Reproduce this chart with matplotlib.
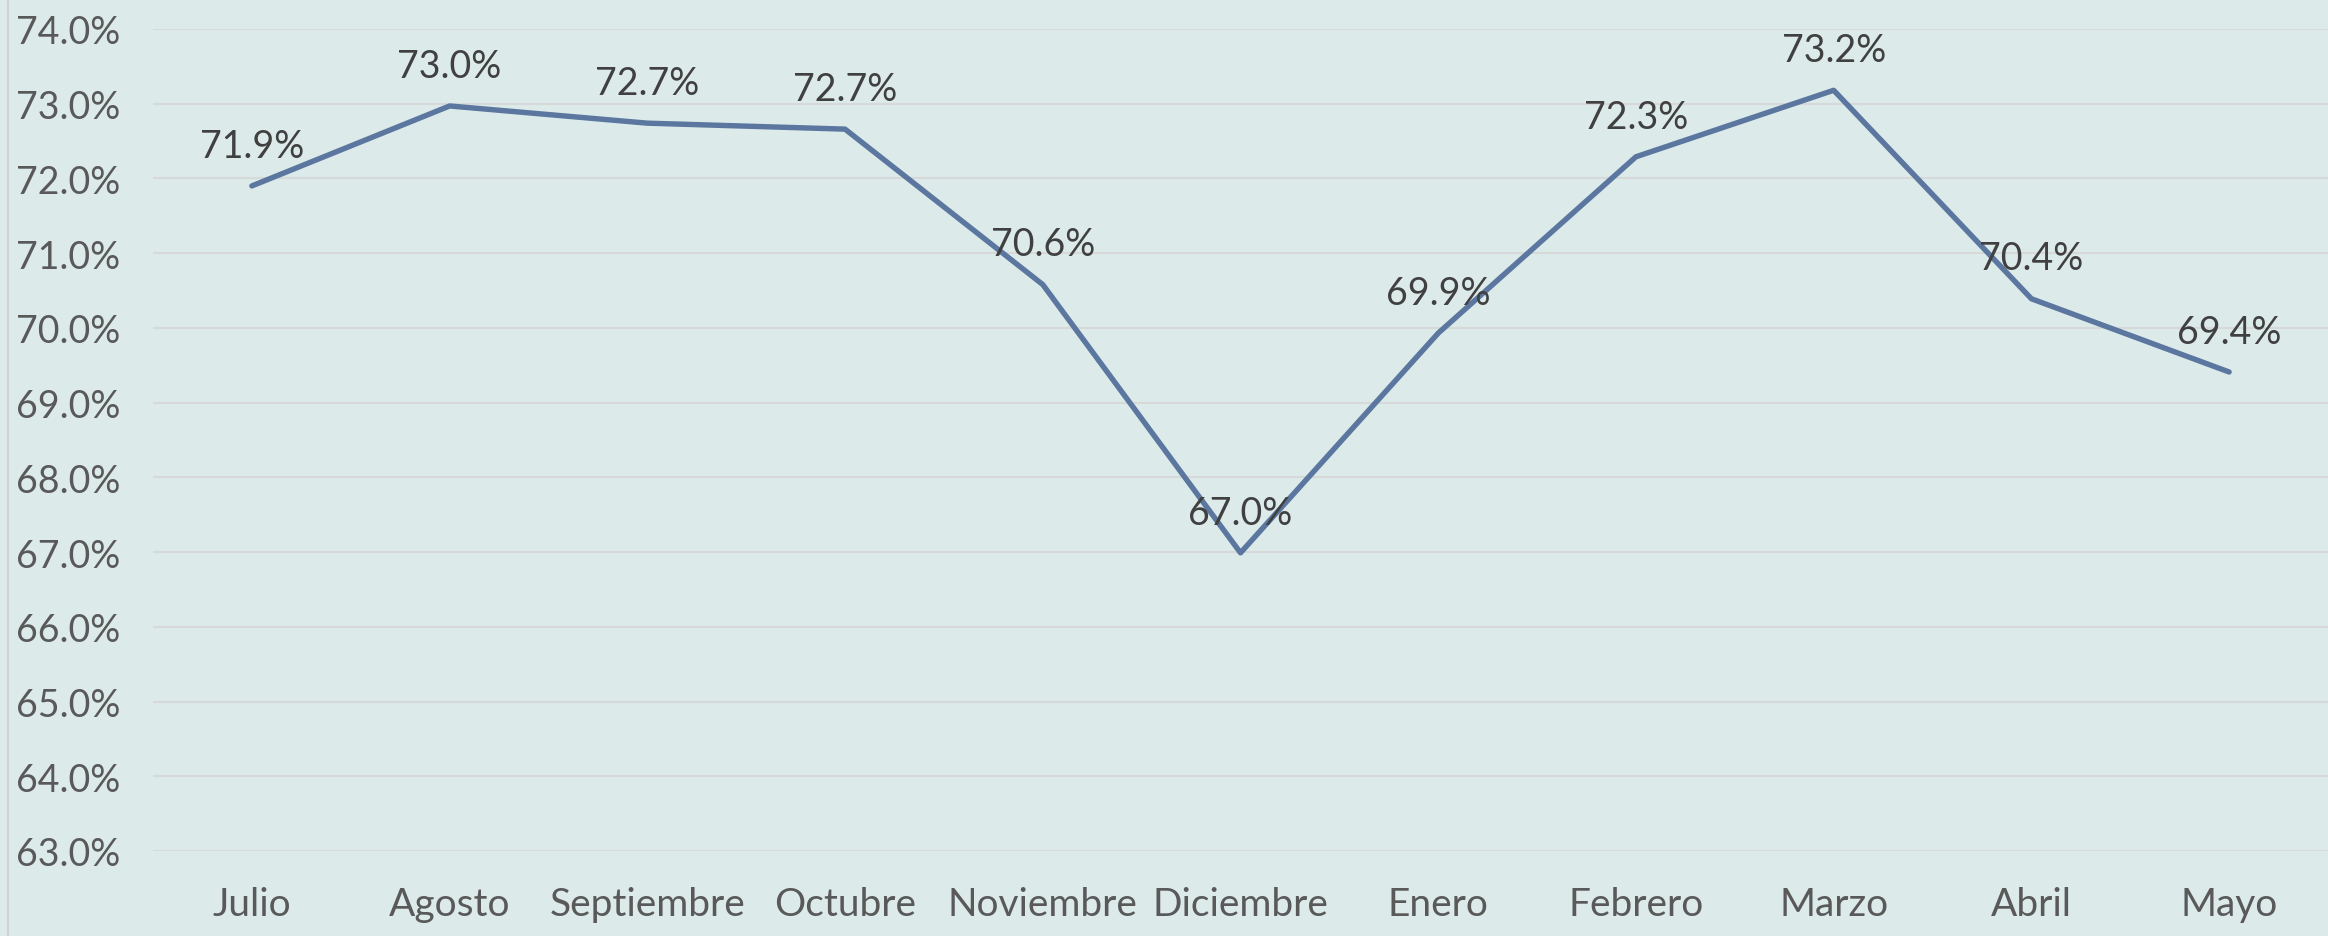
import matplotlib
matplotlib.use("Agg")
import matplotlib.pyplot as plt
from matplotlib.lines import Line2D
from matplotlib.ticker import FuncFormatter

# data
months = ['Julio', 'Agosto', 'Septiembre', 'Octubre', 'Noviembre', 'Diciembre',
          'Enero', 'Febrero', 'Marzo', 'Abril', 'Mayo']
values = [71.9, 72.97, 72.74, 72.66, 70.58, 66.99, 69.93, 72.29, 73.18, 70.39, 69.41]
y_ticks = [63, 64, 65, 66, 67, 68, 69, 70, 71, 72, 73, 74]

bg = '#dcebea'
line_color = '#5b77a0'
grid_color = '#d6d9d8'

plt.rcParams['font.family'] = ['Lato', 'DejaVu Sans']

fig = plt.figure(figsize=(23.28, 9.37), dpi=100, facecolor=bg)
ax = fig.add_axes([153 / 2328, 1 - 852 / 937, 1 - 153 / 2328, (852 - 30) / 937])
ax.set_facecolor(bg)

x = list(range(len(months)))
ax.plot(x, values, color=line_color, linewidth=3.9, solid_capstyle='round',
        solid_joinstyle='round', zorder=3)

# value labels above each point
for xi, v in zip(x, values):
    ax.annotate(f'{v:.1f}%', (xi, v), xytext=(0, 29), textcoords='offset points',
                ha='center', va='center', fontsize=27, color='#404040', zorder=4)

ax.set_xlim(-0.5, len(months) - 0.5)
ax.set_ylim(63, 74)
ax.set_yticks(y_ticks)
ax.yaxis.set_major_formatter(FuncFormatter(lambda v, p: f'{v:.1f}%'))
ax.set_xticks(x)
ax.set_xticklabels(months)

ax.grid(axis='y', color=grid_color, linewidth=1.5, zorder=0)
for s in ax.spines.values():
    s.set_visible(False)

ax.tick_params(axis='both', length=0, labelsize=27, labelcolor='#595959')
ax.tick_params(axis='x', pad=25, labelsize=28)
ax.tick_params(axis='y', pad=99)
for lab in ax.get_yticklabels():
    lab.set_horizontalalignment('left')

# thin border line at the left edge
fig.add_artist(Line2D([8 / 2328, 8 / 2328], [0, 1], color='#cfd3d2', linewidth=1.5))

fig.savefig('out.png', dpi=100, facecolor=bg)
